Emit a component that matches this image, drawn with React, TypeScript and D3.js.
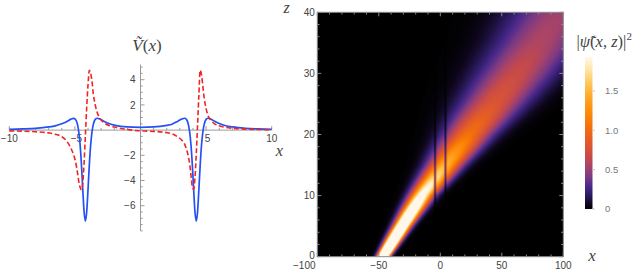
import { useMemo } from 'react';
import * as d3 from 'd3';

const W = 639;
const H = 273;

const vX = [
  -10, -9, -8, -7, -6.5, -6, -5.6, -5.3, -5.1, -4.95, -4.8, -4.7, -4.6, -4.5, -4.4, -4.3, -4.2,
  -4.1, -4.0, -3.9, -3.8, -3.7, -3.6, -3.45, -3.3, -3.1, -2.8, -2.3, -2, -1.5, -1, -0.5, 0,
  0.5, 1, 1.5, 2, 2.4, 2.85, 3.15, 3.35, 3.5, 3.65, 3.75, 3.85, 3.95, 4.05, 4.15, 4.25,
  4.35, 4.45, 4.55, 4.65, 4.75, 4.85, 5.0, 5.15, 5.35, 5.65, 6.05, 6.5, 7, 8, 9, 10,
];
const vRe = [
  0.07, 0.095, 0.14, 0.25, 0.34, 0.5, 0.69, 0.87, 0.93, 0.84, 0.44, -0.17, -1.2, -2.76, -4.71, -6.48, -7.23,
  -6.48, -4.71, -2.76, -1.2, -0.17, 0.44, 0.85, 0.94, 0.88, 0.71, 0.48, 0.4, 0.3, 0.25, 0.23, 0.22,
  0.23, 0.25, 0.3, 0.38, 0.47, 0.71, 0.88, 0.94, 0.85, 0.44, -0.17, -1.2, -2.76, -4.71, -6.48, -7.23,
  -6.48, -4.71, -2.76, -1.2, -0.17, 0.44, 0.85, 0.94, 0.88, 0.7, 0.5, 0.35, 0.25, 0.14, 0.095, 0.07,
];
const vIm = [
  -0.06, -0.08, -0.13, -0.22, -0.32, -0.52, -0.9, -1.45, -1.95, -2.5, -3.4, -4.1, -4.55, -4.75, -4.2, -2.6, -0.4,
  1.8, 3.6, 4.75, 4.5, 3.9, 2.9, 2.0, 1.4, 0.95, 0.6, 0.33, 0.24, 0.13, 0.05, -0.02, -0.06,
  -0.08, -0.1, -0.14, -0.2, -0.3, -0.55, -0.8, -1.1, -1.5, -2.1, -2.7, -3.6, -4.5, -4.7, -3.8, -1.9,
  0.4, 2.8, 4.75, 4.4, 3.5, 2.6, 1.7, 1.15, 0.8, 0.5, 0.32, 0.22, 0.15, 0.08, 0.05, 0.03,
];
const vXMajor = [-10, -5, 5, 10];
const vYMajor = [-6, -4, -2, 2, 4];

// right panel: |ψ̃(x,z)|² beam, one row of readings every 5 in z
const beamZ = [0, 5, 10, 15, 20, 25, 30, 35, 40];
const beamCenter = [-46.5, -31, -15, 4, 23, 43, 62, 80, 97];
const beamSigma = [3.0, 4.5, 6.5, 9.5, 13.5, 18, 21.5, 24.5, 27.5];
const beamPeak = [4.6, 3.1, 2.1, 1.5, 1.05, 0.8, 0.68, 0.58, 0.52];
const wellX = [-4.2, 4.2];
const densXMajor = [-100, -50, 0, 50, 100];
const densZMajor = [0, 10, 20, 30, 40];
const barTicks = [0, 0.5, 1.0, 1.5];
const barMax = 1.93;
const sunsetStops = [0, 0.05, 0.16, 0.28, 0.41, 0.54, 0.66, 0.83, 1.0, 1.13, 1.3, 1.47, 1.63, 1.78, 1.93];
const sunsetColors = [
  '#000000', '#0c0618', '#281858', '#48288a', '#7a3a84', '#a6436a', '#c64a4a', '#e0582e',
  '#f06a12', '#fb7c04', '#ff9510', '#ffb030', '#ffcd68', '#ffe6ac', '#fff8ea',
];

const SANS = "'Liberation Sans', Arial, sans-serif";
const SERIF = "'Liberation Serif', 'Times New Roman', 'DejaVu Serif', serif";
const fmt = (v: number) => (v < 0 ? `\u2212${Math.abs(v)}` : `${v}`);

export default function App() {
  const xV = d3.scaleLinear().domain([-10, 10]).range([9.3, 271.7]);
  const yV = d3.scaleLinear().domain([-8, 5.2]).range([230.9, 64.6]);
  const xD = d3.scaleLinear().domain([-100, 100]).range([317.3, 563.3]);
  const zD = d3.scaleLinear().domain([0, 40]).range([256.7, 12.3]);
  const cb = d3.scaleLinear().domain([0, barMax]).range([209, 57]);
  const sunset = d3
    .scaleLinear<string>()
    .domain(sunsetStops)
    .range(sunsetColors)
    .interpolate(d3.interpolateRgb)
    .clamp(true);

  const curve = (ys: number[]) =>
    d3
      .line<number>()
      .x((_, i) => xV(vX[i]))
      .y((d) => yV(d))
      .curve(d3.curveMonotoneX)(ys) ?? '';

  const heatUrl = useMemo(() => {
    const k = 2;
    const pw = Math.round((xD(100) - xD(-100)) * k);
    const ph = Math.round((zD(0) - zD(40)) * k);
    const cv = document.createElement('canvas');
    cv.width = pw;
    cv.height = ph;
    const ctx = cv.getContext('2d');
    if (!ctx) return '';
    const img = ctx.createImageData(pw, ph);
    const lut = d3.range(256).map((i) => d3.rgb(sunset((i / 255) * barMax)));
    const cAt = d3.scaleLinear().domain(beamZ).range(beamCenter);
    const sAt = d3.scaleLinear().domain(beamZ).range(beamSigma);
    const pAt = d3.scaleLinear().domain(beamZ).range(beamPeak);
    for (let j = 0; j < ph; j++) {
      const z = zD.invert(zD(40) + (j + 0.5) / k);
      const c = cAt(z);
      const s = sAt(z);
      const p = pAt(z);
      for (let i = 0; i < pw; i++) {
        const x = xD.invert(xD(-100) + (i + 0.5) / k);
        let v = p * Math.exp(-((x - c) * (x - c)) / (2 * s * s));
        wellX.forEach((w) => {
          v *= 1 - 0.9 * Math.exp(-((x - w) * (x - w)) / (2 * 0.55 * 0.55));
        });
        const col = lut[Math.round((Math.min(v, barMax) / barMax) * 255)];
        const o = (j * pw + i) * 4;
        img.data[o] = col.r;
        img.data[o + 1] = col.g;
        img.data[o + 2] = col.b;
        img.data[o + 3] = 255;
      }
    }
    ctx.putImageData(img, 0, 0);
    return cv.toDataURL();
  }, []);

  const axisGray = '#9a9a9a';
  const y0 = yV(0);
  const x0 = xV(0);

  return (
    <svg
      width={W}
      height={H}
      style={{ position: 'absolute', left: 0, top: 0, background: '#fff' }}
    >
      <defs>
        <linearGradient id="sunsetBar" x1="0" y1="1" x2="0" y2="0">
          {sunsetStops.map((s, i) => (
            <stop key={i} offset={s / barMax} stopColor={sunsetColors[i]} />
          ))}
        </linearGradient>
      </defs>

      {/* ---------- left panel ---------- */}
      <g>
        <line x1={xV(-10)} x2={xV(10)} y1={y0} y2={y0} stroke={axisGray} strokeWidth={1} />
        <line x1={x0} x2={x0} y1={yV(5.2)} y2={yV(-8)} stroke={axisGray} strokeWidth={1} />
        {d3.range(-10, 10.01, 1).map((t) => {
          const major = vXMajor.includes(t);
          return (
            <line key={`xt${t}`} x1={xV(t)} x2={xV(t)} y1={y0} y2={y0 - (major ? 4 : 2.2)} stroke={axisGray} />
          );
        })}
        {d3.range(-8, 5.01, 0.5).map((t) => {
          const major = vYMajor.includes(t);
          return (
            <line key={`yt${t}`} x1={x0} x2={x0 + (major ? 4 : 2.2)} y1={yV(t)} y2={yV(t)} stroke={axisGray} />
          );
        })}
        {vXMajor.map((t) => (
          <text key={`xl${t}`} x={xV(t) + (Math.abs(t) === 5 ? 1.5 : 0)} y={y0 + 11.8} textAnchor="middle"
            fontFamily={SANS} fontSize={10} fill="#444">
            {fmt(t)}
          </text>
        ))}
        {vYMajor.map((t) => (
          <text key={`yl${t}`} x={x0 - 5} y={yV(t) + 3.6} textAnchor="end" fontFamily={SANS} fontSize={10} fill="#444">
            {fmt(t)}
          </text>
        ))}
        <path d={curve(vRe)} fill="none" stroke="#2450f5" strokeWidth={1.7} />
        <path d={curve(vIm)} fill="none" stroke="#f02424" strokeWidth={1.6} strokeDasharray="5 2.6" />
        <text x={147} y={51} textAnchor="middle" fontFamily={SERIF} fontSize={17} fill="#444">
          <tspan fontStyle="italic">Ṽ</tspan>(<tspan fontStyle="italic">x</tspan>)
        </text>
        <text x={279.5} y={155.5} textAnchor="middle" fontFamily={SERIF} fontSize={16.5} fontStyle="italic" fill="#444">
          x
        </text>
      </g>

      {/* ---------- right panel ---------- */}
      <g>
        <image href={heatUrl} x={xD(-100)} y={zD(40)} width={xD(100) - xD(-100)} height={zD(0) - zD(40)}
          preserveAspectRatio="none" />
        {d3.range(-100, 100.01, 10).map((t) => {
          const len = densXMajor.includes(t) ? 4 : 2.2;
          return (
            <g key={`dx${t}`} stroke="#8a8a8a">
              <line x1={xD(t)} x2={xD(t)} y1={zD(0)} y2={zD(0) - len} />
              <line x1={xD(t)} x2={xD(t)} y1={zD(40)} y2={zD(40) + len} />
            </g>
          );
        })}
        {d3.range(0, 40.01, 2).map((t) => {
          const len = densZMajor.includes(t) ? 4 : 2.2;
          return (
            <g key={`dz${t}`} stroke="#8a8a8a">
              <line x1={xD(-100)} x2={xD(-100) + len} y1={zD(t)} y2={zD(t)} />
              <line x1={xD(100)} x2={xD(100) - len} y1={zD(t)} y2={zD(t)} />
            </g>
          );
        })}
        <rect x={xD(-100)} y={zD(40)} width={xD(100) - xD(-100)} height={zD(0) - zD(40)} fill="none"
          stroke="#8a8a8a" strokeWidth={1} />
        {densXMajor.map((t) => (
          <text key={`dxl${t}`} x={t === -100 ? xD(t) - 13 : xD(t)} y={zD(0) + 12.5} textAnchor="middle"
            fontFamily={SANS} fontSize={10} fill="#444">
            {fmt(t)}
          </text>
        ))}
        {densZMajor.map((t) => (
          <text key={`dzl${t}`} x={xD(-100) - 2.5} y={zD(t) + (t === 0 ? 2.6 : 3.6)} textAnchor="end"
            fontFamily={SANS} fontSize={10} fill="#444">
            {t}
          </text>
        ))}
        <text x={286.5} y={12.5} textAnchor="middle" fontFamily={SERIF} fontSize={16} fontStyle="italic" fill="#444">
          z
        </text>
        <text x={592} y={261} textAnchor="middle" fontFamily={SERIF} fontSize={17} fontStyle="italic" fill="#444">
          x
        </text>

        {/* colour bar */}
        <rect x={585} y={cb(barMax)} width={7.5} height={cb(0) - cb(barMax)} fill="url(#sunsetBar)" />
        {barTicks.map((t) => (
          <g key={`cb${t}`}>
            <line x1={592.5} x2={595} y1={cb(t)} y2={cb(t)} stroke="#c8c8c8" />
            <text x={605} y={cb(t) + 3.4} fontFamily={SANS} fontSize={9.5} fill="#777">
              {t === 0 ? '0' : t.toFixed(1)}
            </text>
          </g>
        ))}
        <text x={576.5} y={47} fontFamily={SERIF} fontSize={16.5} fill="#444">
          |<tspan fontStyle="italic">ψ̃</tspan>(<tspan fontStyle="italic">x</tspan>, <tspan fontStyle="italic">z</tspan>)|
          <tspan fontSize={11} dy={-7}>2</tspan>
        </text>
      </g>
    </svg>
  );
}
